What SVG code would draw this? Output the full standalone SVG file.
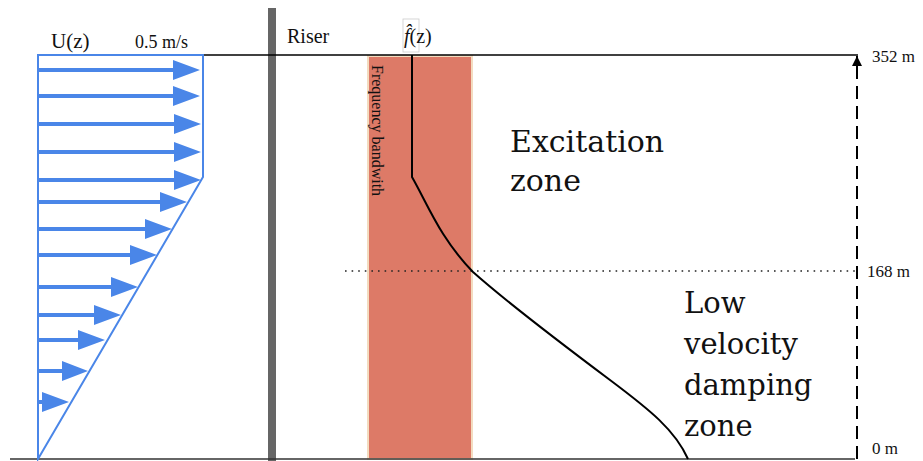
<svg xmlns="http://www.w3.org/2000/svg" width="923" height="461" viewBox="0 0 923 461">
<defs>
<style>
.lbl{font-family:"DejaVu Serif","Liberation Serif",serif;fill:#111}
.sm{font-family:"Liberation Serif","DejaVu Serif",serif;fill:#111}
.shaft{stroke:#4a86e8;stroke-width:4;fill:none}
.head{fill:#4a86e8}
.prof{stroke:#4a86e8;stroke-width:2;fill:none}
</style>
<marker id="ah" markerWidth="10" markerHeight="12" refX="10" refY="6" orient="auto" markerUnits="userSpaceOnUse">
<path d="M0,1 L10,6 L0,11 Z" fill="#000"/>
</marker>
</defs>
<rect width="923" height="461" fill="#fff"/>

<g id="band">
<rect x="368" y="56" width="104" height="403" fill="#dd7a67" stroke="#f3dcc0" stroke-width="2"/>
<text class="sm" font-size="16" transform="translate(372,65) rotate(90)">Frequency bandwith</text>
</g>

<g id="riser">
<rect x="268" y="8" width="8" height="453" fill="#666"/>
<text class="sm" x="287" y="43" font-size="20">Riser</text>
</g>

<g id="axes">
<line x1="203" y1="55" x2="858" y2="55" stroke="#000" stroke-width="1.5"/>
<line x1="10" y1="459" x2="855" y2="459" stroke="#333" stroke-width="1.5"/>
<line x1="345" y1="271" x2="855" y2="271" stroke="#222" stroke-width="1.6" stroke-dasharray="1.6,5"/>
<line x1="857" y1="459" x2="857" y2="56" stroke="#000" stroke-width="2" stroke-dasharray="13,7" marker-end="url(#ah)"/>
<text class="sm" x="872" y="62" font-size="17">352 m</text>
<text class="sm" x="867" y="277" font-size="17">168 m</text>
<text class="sm" x="872" y="454" font-size="17">0 m</text>
</g>

<g id="profile">
<path class="prof" d="M38,459 L38,55 L203,55 L203,177 Z"/>
<text class="sm" x="51" y="48" font-size="21">U(z)</text>
<text class="sm" x="135" y="48" font-size="18">0.5 m/s</text>
<g id="arrows">
<path class="shaft" d="M39,70H176M39,96H176M39,124H177M39,152H177M39,180H177M39,202H162M39,229H147M39,255H132M39,287H113M39,315H96M39,340H79M39,371H63M39,402H44"/>
<path class="head" d="M173,60L200,70L173,80Z M173,86L200,96L173,106Z M174,114L201,124L174,134Z M174,142L201,152L174,162Z M174,170L201,180L174,190Z M160,192L187,202L160,212Z M145,219L172,229L145,239Z M130,245L157,255L130,265Z M111,277L138,287L111,297Z M94,305L121,315L94,325Z M78,330L105,340L78,350Z M62,361L88,371L62,381Z M42,392L69,402L42,412Z"/>
</g>
</g>

<g id="fhat">
<path d="M412,55 L412,177 C428,205 440,238 473,272 C510,305 570,350 610,380 C650,410 675,430 688,459" fill="none" stroke="#000" stroke-width="2"/>
<rect x="403" y="19" width="16" height="33" fill="none" stroke="#ccc" stroke-width="0.8"/>
<text class="sm" x="404" y="43" font-size="20"><tspan font-style="italic">f̂</tspan>(z)</text>
</g>

<g id="excitation">
<text class="lbl" x="510" y="152" font-size="30">Excitation</text>
<text class="lbl" x="510" y="191" font-size="30">zone</text>
</g>

<g id="damping">
<text class="lbl" x="684" y="313" font-size="29">Low</text>
<text class="lbl" x="684" y="354" font-size="29">velocity</text>
<text class="lbl" x="684" y="395" font-size="29">damping</text>
<text class="lbl" x="684" y="436" font-size="29">zone</text>
</g>
</svg>
